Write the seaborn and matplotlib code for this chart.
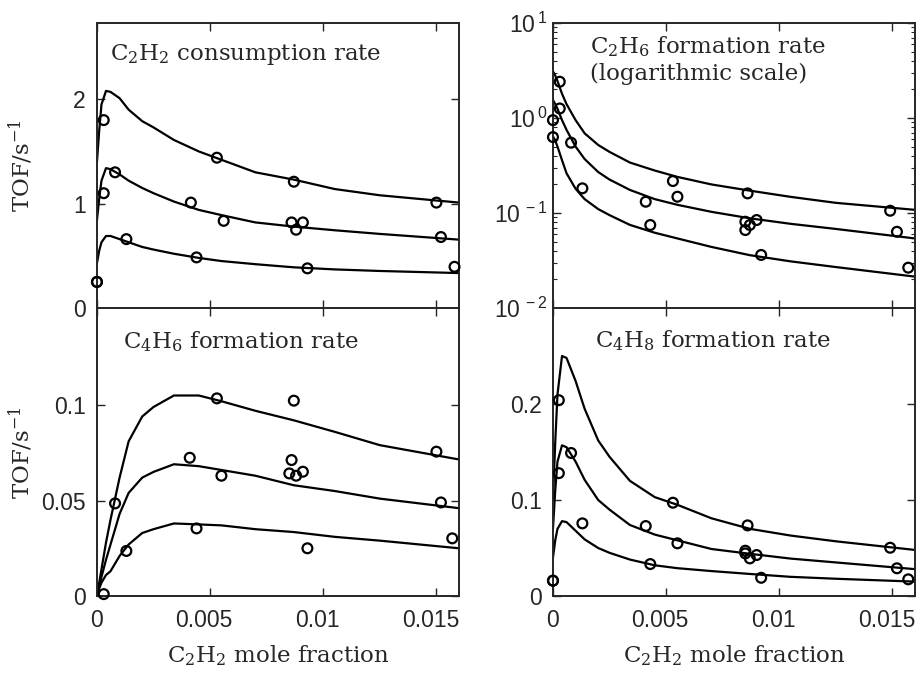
import numpy as np
import pandas as pd
import matplotlib
matplotlib.use("Agg")
import matplotlib.pyplot as plt
import matplotlib.transforms as mtransforms
from matplotlib.ticker import FixedLocator, FuncFormatter, LogLocator, NullFormatter
import seaborn as sns

# ---------------- data ----------------
# model grid (C2H2 mole fraction) shared by all fitted curves
x_model = [0.0, 0.0001, 0.0002, 0.0004, 0.0006, 0.001, 0.0014, 0.002, 0.0025,
           0.0034, 0.0045, 0.0055, 0.007, 0.0087, 0.0105, 0.0125, 0.016]

# C2H2 consumption rate: model curves (high / mid / low)
c2h2_model_hi = [1.40, 1.70, 1.95, 2.08, 2.07, 2.01, 1.90, 1.79, 1.73, 1.61, 1.50, 1.42, 1.30, 1.23, 1.14, 1.08, 1.01]
c2h2_model_mid = [0.84, 1.05, 1.22, 1.34, 1.33, 1.28, 1.22, 1.15, 1.10, 1.02, 0.94, 0.89, 0.82, 0.78, 0.745, 0.71, 0.655]
c2h2_model_lo = [0.43, 0.55, 0.63, 0.69, 0.69, 0.66, 0.63, 0.585, 0.56, 0.52, 0.48, 0.45, 0.42, 0.39, 0.37, 0.355, 0.335]
c2h2_obs_x = [0, 0, 0.0003, 0.0003, 0.0008, 0.0013, 0.00415, 0.0044, 0.0053, 0.0056,
              0.0086, 0.0087, 0.0088, 0.0091, 0.0093, 0.0150, 0.0152, 0.0158]
c2h2_obs_y = [0.25, 0.25, 1.80, 1.10, 1.30, 0.66, 1.01, 0.485, 1.44, 0.835,
              0.82, 1.21, 0.75, 0.82, 0.38, 1.01, 0.68, 0.395]

# C2H6 formation rate (log scale)
c2h6_model_hi = [3.1, 2.8, 2.45, 1.8, 1.4, 0.95, 0.69, 0.52, 0.44, 0.34, 0.28, 0.24, 0.20, 0.172, 0.148, 0.128, 0.108]
c2h6_model_mid = [1.55, 1.4, 1.25, 0.95, 0.75, 0.50, 0.37, 0.27, 0.225, 0.175, 0.14, 0.122, 0.103, 0.088, 0.077, 0.068, 0.054]
c2h6_model_lo = [0.64, 0.58, 0.50, 0.36, 0.262, 0.18, 0.14, 0.11, 0.095, 0.075, 0.062, 0.054, 0.044, 0.036, 0.031, 0.027, 0.0214]
c2h6_obs_x = [0, 0, 0.0003, 0.0003, 0.0008, 0.0013, 0.0041, 0.0043, 0.0053, 0.0055,
              0.0085, 0.0085, 0.0086, 0.0087, 0.0090, 0.0092, 0.0149, 0.0152, 0.0157]
c2h6_obs_y = [0.95, 0.63, 2.41, 1.26, 0.55, 0.182, 0.1315, 0.0748, 0.217, 0.1485,
              0.0662, 0.081, 0.161, 0.0748, 0.0844, 0.0362, 0.1057, 0.0635, 0.0266]

# C4H6 formation rate
c4h6_model_hi = [0.0, 0.007, 0.014, 0.028, 0.040, 0.062, 0.081, 0.094, 0.099, 0.105, 0.105, 0.102, 0.097, 0.092, 0.086, 0.079, 0.0715]
c4h6_model_mid = [0.0, 0.005, 0.010, 0.019, 0.027, 0.043, 0.054, 0.062, 0.065, 0.069, 0.068, 0.066, 0.063, 0.058, 0.055, 0.051, 0.046]
c4h6_model_lo = [0.0, 0.004, 0.007, 0.011, 0.013, 0.021, 0.027, 0.033, 0.035, 0.038, 0.0375, 0.037, 0.035, 0.0335, 0.031, 0.029, 0.025]
c4h6_obs_x = [0.0003, 0.0008, 0.0013, 0.0041, 0.0044, 0.0053, 0.0055, 0.0085,
              0.0086, 0.0087, 0.0088, 0.0091, 0.0093, 0.0150, 0.0152, 0.0157]
c4h6_obs_y = [0.001, 0.0485, 0.0236, 0.0724, 0.0354, 0.1035, 0.063, 0.0642,
              0.0712, 0.1023, 0.063, 0.0651, 0.025, 0.0756, 0.049, 0.0302]

# C4H8 formation rate
c4h8_model_hi = [0.10, 0.16, 0.21, 0.25, 0.248, 0.224, 0.195, 0.162, 0.145, 0.120, 0.103, 0.095, 0.081, 0.070, 0.063, 0.057, 0.048]
c4h8_model_mid = [0.07, 0.11, 0.14, 0.157, 0.155, 0.140, 0.121, 0.100, 0.090, 0.074, 0.064, 0.058, 0.049, 0.044, 0.039, 0.035, 0.028]
c4h8_model_lo = [0.04, 0.058, 0.07, 0.078, 0.077, 0.068, 0.059, 0.050, 0.045, 0.038, 0.032, 0.029, 0.026, 0.023, 0.020, 0.018, 0.015]
c4h8_obs_x = [0, 0, 0.00026, 0.00026, 0.0008, 0.0013, 0.0041, 0.0043, 0.0053, 0.0055,
              0.0085, 0.0085, 0.0086, 0.0087, 0.0090, 0.0092, 0.0149, 0.0152, 0.0157]
c4h8_obs_y = [0.016, 0.016, 0.204, 0.128, 0.149, 0.0757, 0.0729, 0.0333, 0.0972, 0.0549,
              0.0472, 0.0444, 0.0736, 0.0392, 0.0427, 0.019, 0.0503, 0.0289, 0.0174]

x_ticks = [0, 0.005, 0.01, 0.015]
x_tick_labels = ["0", "0.005", "0.01", "0.015"]

# ---------------- style ----------------
sns.set_style("ticks")
plt.rcParams.update({
    "font.family": ["DejaVu Serif"],
    "mathtext.fontset": "custom",
    "mathtext.rm": "DejaVu Serif",
    "mathtext.it": "DejaVu Serif:italic",
    "mathtext.sf": "Liberation Sans",
    "axes.linewidth": 1.4,
})

TICK_FAMILY = "Liberation Sans"
TICK_SIZE = 16.5
LABEL_SIZE = 16.5

fig = plt.figure(figsize=(9.19, 6.77), dpi=100)
L1, L2, W = 0.1055, 0.6017, 0.394
B_low, H_low = 0.1196, 0.4254
B_up, H_up = 0.545, 0.421
ax_tl = fig.add_axes([L1, B_up, W, H_up])
ax_tr = fig.add_axes([L2, B_up, W, H_up])
ax_bl = fig.add_axes([L1, B_low, W, H_low])
ax_br = fig.add_axes([L2, B_low, W, H_low])


def draw_panel(ax, curves, obs_x, obs_y):
    for c in curves:
        df = pd.DataFrame({"x": x_model, "y": c})
        sns.lineplot(data=df, x="x", y="y", ax=ax, color="black", lw=1.6,
                     sort=False, estimator=None)
    obs = pd.DataFrame({"x": obs_x, "y": obs_y})
    sns.scatterplot(data=obs, x="x", y="y", ax=ax, marker="o", s=50,
                    facecolor="none", edgecolor="black", linewidth=1.6,
                    clip_on=False, zorder=5)
    ax.set_xlim(0, 0.016)
    ax.set_xlabel("")
    ax.set_ylabel("")
    ax.tick_params(which="both", direction="in", top=True, right=True)
    ax.tick_params(which="major", length=6, width=1.0)
    ax.tick_params(axis="y", which="major", pad=8)
    ax.tick_params(axis="x", which="major", pad=9)
    ax.xaxis.set_major_locator(FixedLocator(x_ticks))


draw_panel(ax_tl, [c2h2_model_hi, c2h2_model_mid, c2h2_model_lo], c2h2_obs_x, c2h2_obs_y)
draw_panel(ax_tr, [c2h6_model_hi, c2h6_model_mid, c2h6_model_lo], c2h6_obs_x, c2h6_obs_y)
draw_panel(ax_bl, [c4h6_model_hi, c4h6_model_mid, c4h6_model_lo], c4h6_obs_x, c4h6_obs_y)
draw_panel(ax_br, [c4h8_model_hi, c4h8_model_mid, c4h8_model_lo], c4h8_obs_x, c4h8_obs_y)

# y axes
ax_tl.set_ylim(0, 2.73)
ax_tl.yaxis.set_major_locator(FixedLocator([0, 1, 2]))
ax_tl.set_yticklabels(["0", "1", "2"])

ax_tr.set_yscale("log")
ax_tr.set_ylim(1e-2, 1e1)
ax_tr.yaxis.set_major_locator(LogLocator(base=10, numticks=10))
ax_tr.yaxis.set_minor_locator(LogLocator(base=10, subs=np.arange(2, 10), numticks=10))
ax_tr.yaxis.set_minor_formatter(NullFormatter())
ax_tr.yaxis.set_major_formatter(
    FuncFormatter(lambda v, p: r"$\mathsf{10^{\,%d}}$" % int(round(np.log10(v)))))
ax_tr.tick_params(which="minor", length=3, width=0.8)
ax_tr.tick_params(axis="y", which="major", pad=4)

ax_bl.set_ylim(0, 0.1508)
ax_bl.yaxis.set_major_locator(FixedLocator([0, 0.05, 0.1]))
ax_bl.set_yticklabels(["0", "0.05", "0.1"])

ax_br.set_ylim(0, 0.3)
ax_br.yaxis.set_major_locator(FixedLocator([0, 0.1, 0.2]))
ax_br.set_yticklabels(["0", "0.1", "0.2"])

for ax in (ax_tl, ax_tr):
    ax.set_xticklabels([])
for ax in (ax_bl, ax_br):
    ax.set_xticklabels(x_tick_labels)
    ax.set_xlabel(r"C$_2$H$_2$ mole fraction", fontsize=LABEL_SIZE)
    ax.xaxis.set_label_coords(0.5, -0.165)

for ax in (ax_tl, ax_tr, ax_bl, ax_br):
    for lab in ax.get_xticklabels() + ax.get_yticklabels():
        lab.set_fontfamily(TICK_FAMILY)
        lab.set_fontsize(TICK_SIZE)

# non-zero x tick labels sit slightly left of their ticks
shift_left = mtransforms.ScaledTranslation(-6 / 100, 0, fig.dpi_scale_trans)
for ax in (ax_bl, ax_br):
    for lab in ax.get_xticklabels()[1:]:
        lab.set_transform(lab.get_transform() + shift_left)

for ax in (ax_tl, ax_bl):
    ax.set_ylabel(r"TOF/s$^{-1}$", fontsize=LABEL_SIZE)
    ax.yaxis.set_label_coords(-0.17, 0.5)

# panel titles
ax_tl.text(0.036, 0.87, r"C$_2$H$_2$ consumption rate", transform=ax_tl.transAxes,
           fontsize=LABEL_SIZE, va="baseline", ha="left")
ax_tr.text(0.102, 0.895, r"C$_2$H$_6$ formation rate", transform=ax_tr.transAxes,
           fontsize=LABEL_SIZE, va="baseline", ha="left")
ax_tr.text(0.102, 0.80, "(logarithmic scale)", transform=ax_tr.transAxes,
           fontsize=LABEL_SIZE, va="baseline", ha="left")
ax_bl.text(0.072, 0.861, r"C$_4$H$_6$ formation rate", transform=ax_bl.transAxes,
           fontsize=LABEL_SIZE, va="baseline", ha="left")
ax_br.text(0.116, 0.865, r"C$_4$H$_8$ formation rate", transform=ax_br.transAxes,
           fontsize=LABEL_SIZE, va="baseline", ha="left")

fig.savefig("out.png", dpi=100)
